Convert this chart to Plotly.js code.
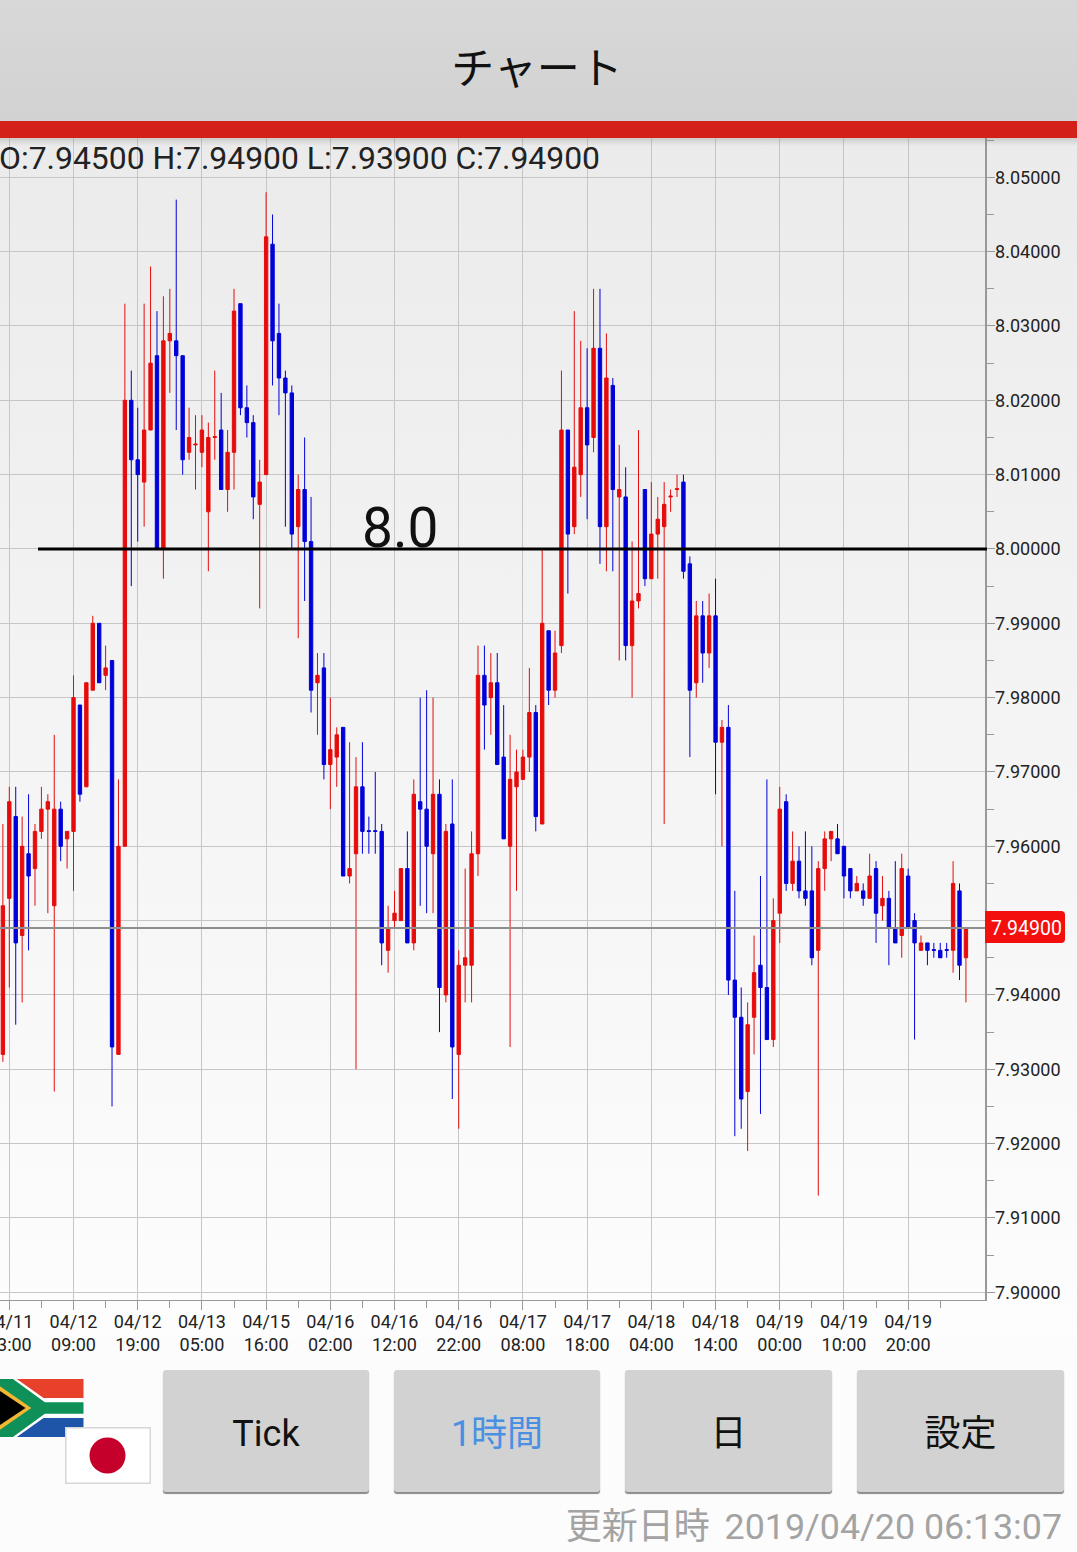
<!DOCTYPE html>
<html><head><meta charset="utf-8">
<script src="https://cdn.plot.ly/plotly-3.0.1.min.js"></script>
<style>
html,body{margin:0;padding:0;width:1077px;height:1552px;overflow:hidden;background:#fcfcfc;font-family:Roboto,"Noto Sans CJK JP",sans-serif}
#bg{position:absolute;left:0;top:138px;width:1077px;height:1200px;background:linear-gradient(#ebebeb,#fdfdfd)}
#chart{position:absolute;left:0;top:0;width:1077px;height:1552px}
#head{position:absolute;left:0;top:0;width:1074px;padding-right:3px;height:121px;background:linear-gradient(#d8d8d8,#d2d2d2);text-align:center;font:43px/130px "Noto Sans CJK JP";color:#111}
#bar{position:absolute;left:0;top:121px;width:1077px;height:17px;background:#d3211a}
#shade{position:absolute;left:0;top:138px;width:1077px;height:8px;background:linear-gradient(rgba(120,120,120,.28),rgba(120,120,120,0))}
.btn{position:absolute;top:1370px;height:122px;background:#d2d2d2;border-radius:3px;box-shadow:0 2px 1px #8a8a8a;text-align:center;font:36px/128px Roboto,"Noto Sans CJK JP";color:#111}
#upd{position:absolute;right:15px;top:1503px;font:35.8px/48px Roboto,"Noto Sans CJK JP";color:#a3a3a3;white-space:pre}
#upd span{font-size:36px;margin-right:6px}
svg.flag{position:absolute}
</style></head><body>
<div id="bg"></div>
<div id="chart"></div>
<div id="head">チャート</div>
<div id="bar"></div>
<div id="shade"></div>
<svg class="flag" style="left:-4px;top:1379px" width="88" height="58" viewBox="0 0 90 60">
<rect width="90" height="20" fill="#e8412b"/><rect y="40" width="90" height="20" fill="#1f55a8"/><rect y="20" width="90" height="20" fill="#fff"/>
<path d="M0 0H21L49 20H90V40H49L21 60H0Z" fill="#fff"/>
<path d="M0 0H17L50 24H90V36H50L17 60H0Z" fill="#0f9058"/>
<path d="M0 5L36 30L0 55Z" fill="#f2b632"/><path d="M0 10L30 30L0 50Z" fill="#000"/></svg>
<svg class="flag" style="left:65px;top:1427px" width="86" height="57" viewBox="0 0 86 57">
<rect x=".75" y=".75" width="84.5" height="55.5" fill="#fff" stroke="#d6d6d6" stroke-width="1.5"/><circle cx="42.5" cy="28.5" r="18" fill="#c4002b"/></svg>
<div class="btn" style="left:163px;width:206px">Tick</div>
<div class="btn" style="left:394px;width:206px;color:#4a90e2">1時間</div>
<div class="btn" style="left:625px;width:207px">日</div>
<div class="btn" style="left:857px;width:207px">設定</div>
<div id="upd"><span>更新日時</span> 2019/04/20 06:13:07</div>
<script>
const open=[7.932,
7.953,7.964,7.948,7.959,7.957,7.962,7.965,7.952,7.965,7.961,
7.962,7.979,7.968,7.981,7.990,7.983,7.985,7.932,7.960,8.020,
8.012,8.009,8.016,8.026,8.000,8.028,8.028,8.026,8.013,8.014,
8.013,8.005,8.015,8.016,8.008,8.013,8.033,8.019,8.017,8.006,
8.010,8.041,8.029,8.023,8.021,8.003,8.008,8.001,7.982,7.984,
7.971,7.972,7.976,7.956,7.959,7.968,7.9621,7.9621,7.962,7.946,
7.950,7.950,7.957,7.947,7.966,7.965,7.959,7.967,7.940,7.963,
7.932,7.944,7.944,7.959,7.983,7.980,7.982,7.972,7.960,7.968,
7.969,7.972,7.978,7.963,7.989,7.981,7.987,8.016,8.003,8.010,
8.019,8.015,8.027,8.003,8.022,8.007,8.007,7.987,7.993,8.008,
7.996,8.002,8.003,8.007,8.008,8.009,7.998,7.982,7.991,7.986,
7.991,7.974,7.976,7.942,7.937,7.927,7.937,7.944,7.941,7.934,
7.951,7.966,7.955,7.958,7.954,7.954,7.946,7.957,7.961,7.961,
7.960,7.957,7.954,7.954,7.953,7.957,7.952,7.953,7.949,7.948,
7.956,7.950,7.946,7.947,7.9461,7.946,7.9461,7.946,7.954,7.945];
const high=[7.963,
7.968,7.968,7.964,7.967,7.963,7.968,7.967,7.975,7.966,7.962,
7.983,7.979,7.982,7.991,7.990,7.987,7.985,7.969,8.033,8.024,
8.019,8.033,8.038,8.032,8.034,8.035,8.047,8.026,8.019,8.018,
8.018,8.017,8.024,8.021,8.016,8.035,8.033,8.022,8.018,8.012,
8.048,8.045,8.033,8.024,8.022,8.010,8.015,8.007,7.986,7.986,
7.980,7.976,7.976,7.974,7.972,7.974,7.964,7.970,7.963,7.952,
7.954,7.957,7.962,7.969,7.980,7.981,7.980,7.969,7.963,7.969,
7.946,7.957,7.962,7.987,7.987,7.986,7.986,7.979,7.975,7.973,
7.973,7.984,7.979,8.000,7.989,7.989,8.024,8.016,8.032,8.028,
8.027,8.035,8.035,8.029,8.023,8.014,8.011,8.001,8.016,8.008,
8.009,8.007,8.009,8.008,8.010,8.010,7.999,7.993,7.993,7.994,
7.996,7.977,7.979,7.954,7.941,7.939,7.948,7.956,7.969,7.953,
7.968,7.967,7.962,7.960,7.962,7.960,7.958,7.962,7.962,7.963,
7.960,7.957,7.956,7.955,7.959,7.958,7.956,7.954,7.958,7.959,
7.957,7.951,7.948,7.947,7.947,7.947,7.947,7.958,7.955,7.949];
const low=[7.931,
7.941,7.936,7.939,7.946,7.952,7.961,7.951,7.927,7.958,7.957,
7.954,7.966,7.968,7.981,7.982,7.981,7.925,7.932,7.960,7.995,
8.001,8.003,8.016,8.000,7.996,8.021,8.016,8.010,8.012,8.008,
8.011,7.997,8.012,8.008,8.005,8.008,8.018,8.015,8.004,7.992,
8.010,8.022,8.018,8.003,8.000,7.988,7.993,7.978,7.975,7.969,
7.965,7.968,7.956,7.955,7.930,7.959,7.959,7.959,7.944,7.943,
7.949,7.950,7.947,7.946,7.952,7.951,7.951,7.935,7.939,7.926,
7.922,7.939,7.939,7.956,7.973,7.975,7.971,7.961,7.933,7.954,
7.969,7.970,7.962,7.963,7.979,7.980,7.986,7.994,8.002,8.007,
8.004,8.013,7.998,7.997,7.997,7.985,7.985,7.980,7.992,7.995,
7.996,7.996,7.963,8.005,8.007,7.996,7.972,7.980,7.982,7.984,
7.967,7.960,7.940,7.921,7.922,7.919,7.932,7.924,7.934,7.933,
7.947,7.954,7.954,7.953,7.952,7.944,7.913,7.954,7.958,7.959,
7.953,7.953,7.954,7.952,7.953,7.947,7.950,7.944,7.947,7.945,
7.949,7.934,7.946,7.944,7.945,7.945,7.945,7.943,7.942,7.939];
const close=[7.952,
7.966,7.947,7.960,7.956,7.962,7.965,7.966,7.965,7.960,7.962,
7.980,7.967,7.982,7.990,7.982,7.984,7.933,7.960,8.020,8.012,
8.010,8.016,8.025,8.000,8.028,8.029,8.026,8.012,8.015,8.0141,
8.016,8.015,8.0151,8.008,8.013,8.032,8.019,8.017,8.007,8.009,
8.042,8.028,8.023,8.021,8.002,8.008,8.001,7.981,7.983,7.971,
7.973,7.975,7.956,7.957,7.968,7.962,7.962,7.962,7.947,7.949,
7.951,7.957,7.947,7.967,7.965,7.960,7.967,7.941,7.962,7.933,
7.944,7.945,7.959,7.983,7.979,7.982,7.971,7.961,7.969,7.970,
7.972,7.978,7.964,7.990,7.981,7.986,8.016,8.002,8.011,8.019,
8.014,8.027,8.003,8.023,8.008,8.008,7.987,7.993,7.994,7.996,
8.002,8.004,8.006,8.0071,8.0081,7.997,7.981,7.991,7.986,7.991,
7.974,7.976,7.942,7.937,7.926,7.936,7.943,7.941,7.934,7.950,
7.965,7.955,7.958,7.954,7.953,7.945,7.957,7.961,7.962,7.959,
7.956,7.954,7.955,7.953,7.956,7.951,7.953,7.949,7.947,7.957,
7.949,7.947,7.947,7.946,7.946,7.945,7.946,7.955,7.944,7.949];
const tickDates=["04/11 23:00","04/12 09:00","04/12 19:00","04/13 05:00","04/15 16:00","04/16 02:00","04/16 12:00","04/16 22:00","04/17 08:00","04/17 18:00","04/18 04:00","04/18 14:00","04/19 00:00","04/19 10:00","04/19 20:00"];
const tickBars=[0,10,20,30,40,50,60,70,80,90,100,110,120,130,140];
const priceTicks=[7.90,7.91,7.92,7.93,7.94,7.95,7.96,7.97,7.98,7.99,8.00,8.01,8.02,8.03,8.04,8.05];
const priceLabels=["7.90000","7.91000","7.92000","7.93000","7.94000","","7.96000","7.97000","7.98000","7.99000","8.00000","8.01000","8.02000","8.03000","8.04000","8.05000"];
const levelValue=8.0, levelLabel="8.0", lastPrice=7.949, lastPriceLabel="7.94900";
const ohlcLabel="O:7.94500 H:7.94900 L:7.93900 C:7.94900";
const bars=open.map((_,i)=>i-1);
const W=1077,H=1552,PX=v=>v/W,PY=v=>1-v/H;
const grid='#c6c6c6';
const font={family:'Roboto, sans-serif',size:18,color:'#222'};
const red='#e60c0c',blue='#0000d9';
Plotly.newPlot('chart',[{
 type:'candlestick',x:bars,open:open,high:high,low:low,close:close,
 increasing:{line:{color:red,width:1},fillcolor:red},
 decreasing:{line:{color:blue,width:1},fillcolor:blue},
 whiskerwidth:0,showlegend:false,hoverinfo:'skip'
}],{
 width:W,height:H,margin:{l:0,r:0,t:0,b:0,pad:0},boxgap:0.25,
 paper_bgcolor:'rgba(0,0,0,0)',plot_bgcolor:'rgba(0,0,0,0)',showlegend:false,font:font,
 xaxis:{domain:[0,985/W],range:[-1.45,151.97],rangeslider:{visible:false},tickmode:'array',tickvals:tickBars,
  ticktext:tickDates.map(s=>s.replace(' ','<br>')),ticklabeloverflow:'allow',ticklabelstandoff:-4,tickfont:font,
  showgrid:true,gridcolor:grid,gridwidth:1,showline:true,linecolor:'#999',linewidth:1,ticks:'outside',ticklen:9,tickcolor:'#999',tickwidth:1,zeroline:false,
  minor:{tickmode:'linear',tick0:5,dtick:10,ticks:'outside',ticklen:7,tickcolor:'#999',showgrid:false},fixedrange:true},
 yaxis:{domain:[1-1300/H,1-138/H],range:[7.89896,8.05529],side:'right',anchor:'x',tickmode:'array',tickvals:priceTicks,ticktext:priceLabels,ticklabelstandoff:-3,tickfont:font,
  showgrid:true,gridcolor:grid,gridwidth:1,showline:true,linecolor:'#999',linewidth:1.5,ticks:'outside',ticklen:8,tickcolor:'#999',tickwidth:1,zeroline:false,
  minor:{tickmode:'linear',tick0:8.005,dtick:0.01,ticks:'outside',ticklen:7,tickcolor:'#999',showgrid:false},fixedrange:true},
 shapes:[
  {type:'line',xref:'paper',yref:'y',x0:38/W,x1:987/W,y0:levelValue,y1:levelValue,line:{color:'#000',width:3}},
  {type:'line',xref:'paper',yref:'y',x0:0,x1:985/W,y0:lastPrice,y1:lastPrice,line:{color:'#8e8e8e',width:2}},
  {type:'path',xref:'paper',yref:'paper',fillcolor:'#f40f0f',line:{width:0},
   path:`M${PX(985)} ${PY(911)}L${PX(1061)} ${PY(911)}Q${PX(1065)} ${PY(911)} ${PX(1065)} ${PY(915)}L${PX(1065)} ${PY(939)}Q${PX(1065)} ${PY(943)} ${PX(1061)} ${PY(943)}L${PX(985)} ${PY(943)}Z`}
 ],
 annotations:[
  {xref:'paper',yref:'paper',x:PX(0),y:PY(158),xanchor:'left',yanchor:'middle',xshift:-3,showarrow:false,text:ohlcLabel,font:{family:'Roboto, sans-serif',size:31.9,color:'#222'}},
  {xref:'paper',yref:'paper',x:PX(399.5),y:PY(528),xanchor:'center',yanchor:'middle',showarrow:false,text:levelLabel,font:{family:'Roboto, sans-serif',size:55,color:'#111'}},
  {xref:'paper',yref:'y',x:PX(1026),y:lastPrice,xanchor:'center',yanchor:'middle',showarrow:false,text:lastPriceLabel,font:{family:'Roboto, sans-serif',size:19.5,color:'#fff'}}
 ]
},{staticPlot:true,displayModeBar:false});
</script>
</body></html>
